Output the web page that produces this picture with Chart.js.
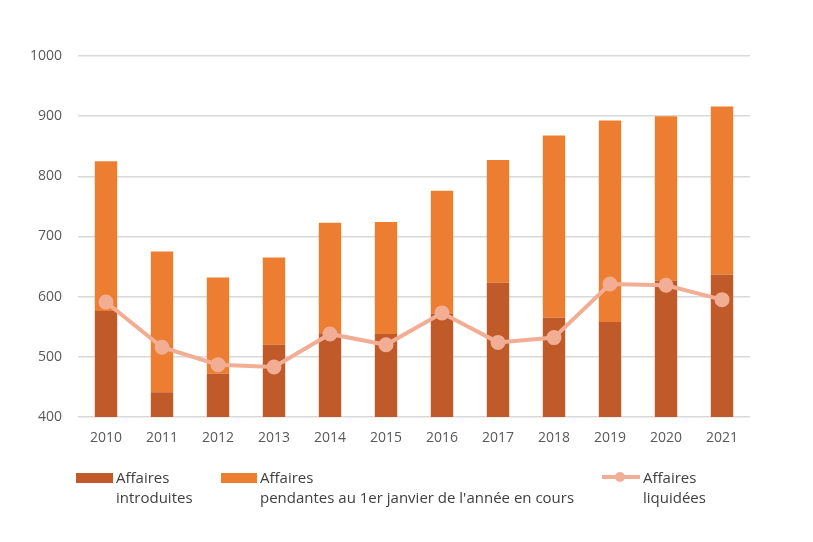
<!DOCTYPE html>
<html><head><meta charset="utf-8">
<script src="https://cdn.jsdelivr.net/npm/chart.js@4"></script>
<style>
html,body{margin:0;padding:0;background:#fff;}
#wrap{position:relative;width:813px;height:542px;}
canvas{position:absolute;left:0;top:0;}
.lg{position:absolute;font-family:"Open Sans",sans-serif;font-size:15px;color:#404040;line-height:20px;white-space:nowrap;}
.sw{position:absolute;}
</style></head><body>
<div id="wrap">
<canvas id="c" width="813" height="542"></canvas>
<div class="sw" style="left:76px;top:473px;width:37px;height:10px;background:#C05A28;"></div>
<div class="lg" style="left:116px;top:467px;">Affaires<br>introduites</div>
<div class="sw" style="left:221px;top:473px;width:36px;height:10px;background:#ED7D31;"></div>
<div class="lg" style="left:260px;top:467px;">Affaires<br>pendantes au 1er janvier de l'année en cours</div>
<div class="sw" style="left:602px;top:475px;width:38px;height:4px;background:#F2AE94;"></div>
<div class="sw" style="left:615px;top:472px;width:10px;height:10px;border-radius:5px;background:#F2AE94;"></div>
<div class="lg" style="left:643px;top:467px;">Affaires<br>liquidées</div>
</div>
<script>
const years = ['2010','2011','2012','2013','2014','2015','2016','2017','2018','2019','2020','2021'];
const introduites = [576, 441, 472, 520, 539, 538, 572, 623, 565, 558, 627, 637];
const totals = [825, 675, 632, 665, 723, 724, 776, 827, 868, 893, 900, 916];
const pendantes = totals.map((t, i) => t - introduites[i]);
const liquidees = [591, 516, 487, 483, 538, 520, 573, 524, 532, 621, 619, 595];
const yTicks = [400, 500, 600, 700, 800, 900, 1000];

const font = {family: '"Open Sans", sans-serif', size: 14};
new Chart(document.getElementById('c'), {
  data: {
    labels: years,
    datasets: [
      {type: 'line', label: 'Affaires liquidées', data: liquidees, borderColor: '#F2AE94', backgroundColor: '#F2AE94',
       borderWidth: 4, pointRadius: 5.5, pointHoverRadius: 5.5, order: 0, tension: 0},
      {type: 'bar', label: 'Affaires introduites', data: introduites, backgroundColor: '#C05A28', stack: 's', order: 1,
       categoryPercentage: 1, barPercentage: 0.4},
      {type: 'bar', label: 'Affaires pendantes au 1er janvier de l\'année en cours', data: pendantes, backgroundColor: '#ED7D31', stack: 's', order: 1,
       categoryPercentage: 1, barPercentage: 0.4}
    ]
  },
  options: {
    responsive: false, animation: false,
    layout: {padding: {left: 0, right: 63, top: 56, bottom: 0}},
    plugins: {legend: {display: false}, tooltip: {enabled: false}},
    scales: {
      x: {stacked: true, grid: {display: false, drawTicks: false}, border: {display: false},
          ticks: {color: '#595959', font: font, padding: 13},
          afterFit: s => { s.height = 125; }},
      y: {stacked: true, min: 400, max: 1000,
          afterBuildTicks: s => { s.ticks = yTicks.map(v => ({value: v})); },
          grid: {color: '#D9D9D9', lineWidth: 1.5, drawTicks: false}, border: {display: false},
          ticks: {color: '#595959', font: font, padding: 16, callback: v => String(v)},
          afterFit: s => { s.width = 78; }}
    }
  }
});
</script>
</body></html>
